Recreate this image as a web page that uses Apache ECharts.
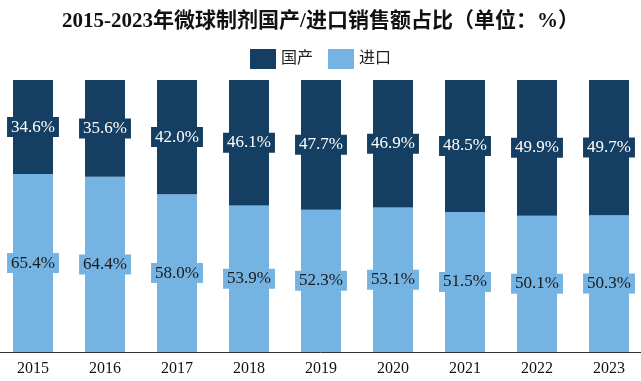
<!DOCTYPE html>
<html>
<head>
<meta charset="utf-8">
<script src="https://cdn.jsdelivr.net/npm/echarts@6/dist/echarts.min.js"></script>
<style>html,body{margin:0;padding:0;background:#fff}#c{width:641px;height:381px}</style>
</head>
<body>
<div id="c"></div>
<script>
var categories = ['2015','2016','2017','2018','2019','2020','2021','2022','2023'];
var domestic = [34.6, 35.6, 42.0, 46.1, 47.7, 46.9, 48.5, 49.9, 49.7];
var imported = [65.4, 64.4, 58.0, 53.9, 52.3, 53.1, 51.5, 50.1, 50.3];
var seriesNames = ['国产', '进口'];
var titleText = '2015-2023年微球制剂国产/进口销售额占比（单位：%）';

var DARK = '#143f62';
var LIGHT = '#74b3e2';
var SERIF = '"Liberation Serif","Times New Roman","Noto Sans CJK SC",serif';

var chart = echarts.init(document.getElementById('c'));
function fmt(p){ return p.value.toFixed(1) + '%'; }
chart.setOption({
  animation: false,
  title: {
    text: titleText, left: 'center', top: 6,
    textStyle: {fontSize: 21, fontWeight: 'bold', color: '#111', fontFamily: SERIF}
  },
  legend: {
    data: seriesNames, top: 44, left: 'center', icon: 'rect',
    itemWidth: 26, itemHeight: 20, itemGap: 15,
    textStyle: {fontSize: 16, color: '#222', fontFamily: SERIF}
  },
  grid: {left: -3, right: -4, top: 80, bottom: 29, outerBoundsMode: 'none', containLabel: false},
  xAxis: {
    type: 'category', data: categories,
    axisTick: {show: false},
    axisLine: {lineStyle: {color: '#333', width: 1}},
    axisLabel: {fontSize: 16, color: '#111', fontFamily: SERIF, margin: 9}
  },
  yAxis: {type: 'value', min: 0, max: 100, show: false},
  series: [
    {
      name: seriesNames[1], type: 'bar', stack: 'a', data: imported, barWidth: 40,
      itemStyle: {color: LIGHT},
      label: {show: true, position: 'inside', formatter: fmt, color: '#1a1a1a',
        fontSize: 17, fontFamily: SERIF, backgroundColor: LIGHT, padding: [2, 4, 1, 4]}
    },
    {
      name: seriesNames[0], type: 'bar', stack: 'a', data: domestic, barWidth: 40,
      itemStyle: {color: DARK},
      label: {show: true, position: 'inside', formatter: fmt, color: '#fff',
        fontSize: 17, fontFamily: SERIF, backgroundColor: DARK, padding: [2, 4, 1, 4]}
    }
  ]
});
</script>
</body>
</html>
